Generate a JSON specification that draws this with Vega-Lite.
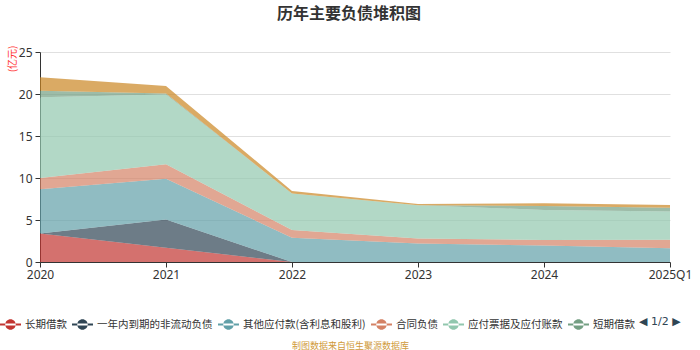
{
  "$schema": "https://vega.github.io/schema/vega-lite/v6.json",
  "autosize": "none",
  "width": 630,
  "height": 210,
  "padding": {"left": 40, "top": 52, "right": 30, "bottom": 88},
  "background": "white",
  "title": {"text": "历年主要负债堆积图", "fontSize": 16, "fontWeight": "bold", "color": "#333333", "font": "Noto Sans CJK SC", "anchor": "middle", "offset": 23, "dx": -6},
  "config": {"view": {"stroke": null}, "font": "Noto Sans CJK SC"},
  "data": {"values": [
    {"period": "2020", "series": "长期借款", "idx": 1, "value": 3.4},
    {"period": "2021", "series": "长期借款", "idx": 1, "value": 1.7},
    {"period": "2022", "series": "长期借款", "idx": 1, "value": 0},
    {"period": "2023", "series": "长期借款", "idx": 1, "value": 0},
    {"period": "2024", "series": "长期借款", "idx": 1, "value": 0},
    {"period": "2025Q1", "series": "长期借款", "idx": 1, "value": 0},
    {"period": "2020", "series": "一年内到期的非流动负债", "idx": 2, "value": 0},
    {"period": "2021", "series": "一年内到期的非流动负债", "idx": 2, "value": 3.35},
    {"period": "2022", "series": "一年内到期的非流动负债", "idx": 2, "value": 0},
    {"period": "2023", "series": "一年内到期的非流动负债", "idx": 2, "value": 0},
    {"period": "2024", "series": "一年内到期的非流动负债", "idx": 2, "value": 0},
    {"period": "2025Q1", "series": "一年内到期的非流动负债", "idx": 2, "value": 0},
    {"period": "2020", "series": "其他应付款(含利息和股利)", "idx": 3, "value": 5.25},
    {"period": "2021", "series": "其他应付款(含利息和股利)", "idx": 3, "value": 4.85},
    {"period": "2022", "series": "其他应付款(含利息和股利)", "idx": 3, "value": 2.9},
    {"period": "2023", "series": "其他应付款(含利息和股利)", "idx": 3, "value": 2.2},
    {"period": "2024", "series": "其他应付款(含利息和股利)", "idx": 3, "value": 1.95},
    {"period": "2025Q1", "series": "其他应付款(含利息和股利)", "idx": 3, "value": 1.65},
    {"period": "2020", "series": "合同负债", "idx": 4, "value": 1.35},
    {"period": "2021", "series": "合同负债", "idx": 4, "value": 1.75},
    {"period": "2022", "series": "合同负债", "idx": 4, "value": 0.9},
    {"period": "2023", "series": "合同负债", "idx": 4, "value": 0.6},
    {"period": "2024", "series": "合同负债", "idx": 4, "value": 0.68},
    {"period": "2025Q1", "series": "合同负债", "idx": 4, "value": 1.0},
    {"period": "2020", "series": "应付票据及应付账款", "idx": 5, "value": 9.6},
    {"period": "2021", "series": "应付票据及应付账款", "idx": 5, "value": 8.3},
    {"period": "2022", "series": "应付票据及应付账款", "idx": 5, "value": 4.35},
    {"period": "2023", "series": "应付票据及应付账款", "idx": 5, "value": 3.95},
    {"period": "2024", "series": "应付票据及应付账款", "idx": 5, "value": 3.57},
    {"period": "2025Q1", "series": "应付票据及应付账款", "idx": 5, "value": 3.35},
    {"period": "2020", "series": "短期借款", "idx": 6, "value": 0.8},
    {"period": "2021", "series": "短期借款", "idx": 6, "value": 0.1},
    {"period": "2022", "series": "短期借款", "idx": 6, "value": 0},
    {"period": "2023", "series": "短期借款", "idx": 6, "value": 0.02},
    {"period": "2024", "series": "短期借款", "idx": 6, "value": 0.47},
    {"period": "2025Q1", "series": "短期借款", "idx": 6, "value": 0.47},
    {"period": "2020", "series": "其他流动负债", "idx": 7, "value": 1.6},
    {"period": "2021", "series": "其他流动负债", "idx": 7, "value": 0.9},
    {"period": "2022", "series": "其他流动负债", "idx": 7, "value": 0.3},
    {"period": "2023", "series": "其他流动负债", "idx": 7, "value": 0.13},
    {"period": "2024", "series": "其他流动负债", "idx": 7, "value": 0.31},
    {"period": "2025Q1", "series": "其他流动负债", "idx": 7, "value": 0.32}
  ]},
  "mark": {"type": "area", "opacity": 0.7, "interpolate": "linear"},
  "encoding": {
    "x": {
      "field": "period", "type": "ordinal",
      "scale": {"type": "point", "padding": 0},
      "axis": {
        "labelAngle": 0, "labelFontSize": 12, "labelColor": "#333333", "labelFont": "Noto Sans",
        "domainColor": "#333333", "tickColor": "#333333", "tickSize": 5, "grid": false,
        "title": "制图数据来自恒生聚源数据库", "titleFontSize": 9, "titleFontWeight": "normal",
        "titleColor": "#d09a3a", "titleY": 83, "titleBaseline": "middle", "titleX": 310
      }
    },
    "y": {
      "field": "value", "type": "quantitative", "stack": "zero",
      "scale": {"domain": [0, 25], "nice": false},
      "axis": {
        "values": [0, 5, 10, 15, 20, 25], "labelFontSize": 12, "labelColor": "#333333", "labelFont": "Noto Sans",
        "domain": true, "domainColor": "#333333", "tickColor": "#333333", "tickSize": 5,
        "gridColor": "#e0e0e0", "labelPadding": 3,
        "title": "(亿元)", "titleColor": "#ff3333", "titleFontSize": 10, "titleFontWeight": "normal",
        "titleAnchor": "end", "titleAngle": -90, "titleX": -28, "titleY": -7, "titleAlign": "right", "titleBaseline": "middle"
      }
    },
    "color": {
      "field": "series", "type": "nominal",
      "scale": {
        "domain": ["长期借款", "一年内到期的非流动负债", "其他应付款(含利息和股利)", "合同负债", "应付票据及应付账款", "短期借款", "其他流动负债"],
        "range": ["#c23531", "#2f4554", "#61a0a8", "#d48265", "#91c7ae", "#749f83", "#ca8622"]
      },
      "legend": {
        "values": ["长期借款", "一年内到期的非流动负债", "其他应付款(含利息和股利)", "合同负债", "应付票据及应付账款", "短期借款"],
        "orient": "none", "legendX": -40, "legendY": 262, "direction": "horizontal",
        "title": "◀ 1/2 ▶", "titleOrient": "right", "titleFontSize": 11, "titleFontWeight": "normal", "titleColor": "#2f4554", "titleFont": "DejaVu Sans", "titlePadding": 4, "titleBaseline": "middle",
        "symbolType": "M-1,-0.09H1V0.09H-1Z M-0.5,0A0.5,0.5 0 1,0 0.5,0A0.5,0.5 0 1,0 -0.5,0Z",
        "symbolSize": 440, "symbolOpacity": 1, "symbolStrokeWidth": 0,
        "labelFontSize": 10.5, "labelColor": "#333333", "labelFont": "Noto Sans CJK SC",
        "columnPadding": 5, "labelOffset": 4
      }
    },
    "order": {"field": "idx", "type": "quantitative"}
  }
}
